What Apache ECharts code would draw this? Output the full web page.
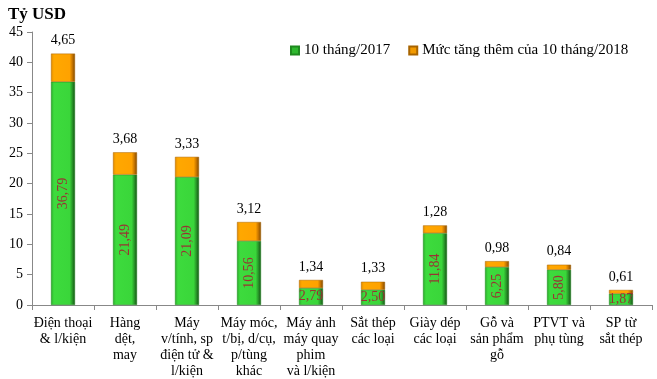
<!DOCTYPE html>
<html><head><meta charset="utf-8">
<script src="https://cdn.jsdelivr.net/npm/echarts@6/dist/echarts.min.js"></script>
<style>html,body{margin:0;padding:0;background:#fff}#c{width:657px;height:379px}</style>
</head><body><div id="c"></div>
<script>
const categories = ["Điện thoại\n& l/kiện", "Hàng\ndệt,\nmay", "Máy\nv/tính, sp\nđiện tử &\nl/kiện", "Máy móc,\nt/bị, d/cụ,\np/tùng\nkhác", "Máy ảnh\nmáy quay\nphim\nvà l/kiện", "Sắt thép\ncác loại", "Giày dép\ncác loại", "Gỗ và\nsản phẩm\ngỗ", "PTVT và\nphụ tùng", "SP từ\nsắt thép"];
const base2017 = [36.79, 21.49, 21.09, 10.56, 2.79, 2.50, 11.84, 6.25, 5.80, 1.87];
const increase2018 = [4.65, 3.68, 3.33, 3.12, 1.34, 1.33, 1.28, 0.98, 0.84, 0.61];
const seriesNames = ["10 tháng/2017", "Mức tăng thêm của 10 tháng/2018"];

const font = "'Liberation Serif', 'Times New Roman', serif";
const fmt = v => v.toFixed(2).replace('.', ',');

const greenGrad = new echarts.graphic.LinearGradient(0, 0, 1, 0, [
  {offset: 0, color: '#2aa82a'}, {offset: 0.12, color: '#3ddb3d'},
  {offset: 0.78, color: '#3ad63a'}, {offset: 0.9, color: '#268f26'}, {offset: 1, color: '#144d14'}]);
const orangeGrad = new echarts.graphic.LinearGradient(0, 0, 1, 0, [
  {offset: 0, color: '#e08a00'}, {offset: 0.12, color: '#ffa800'},
  {offset: 0.78, color: '#ffa200'}, {offset: 0.9, color: '#c07000'}, {offset: 1, color: '#7a4800'}]);

const greenData = base2017.map(v => ({
  value: v,
  label: v < 4 ? {rotate: 0} : {rotate: 90}
}));

const chart = echarts.init(document.getElementById('c'), null, {renderer: 'canvas'});
chart.setOption({
  animation: false,
  textStyle: {fontFamily: font},
  title: {text: 'Tỷ USD', left: 3, top: 1, textStyle: {fontFamily: font, fontSize: 17, fontWeight: 'bold', color: '#000'}},
  legend: {
    left: 285, top: 38, itemWidth: 8, itemHeight: 8, itemGap: 18,
    textStyle: {fontFamily: font, fontSize: 15, color: '#000'},
    data: [{name: seriesNames[0], icon: 'rect', itemStyle: {color: '#2fb82f'}},
           {name: seriesNames[1], icon: 'rect', itemStyle: {color: '#f29a00'}}]
  },
  grid: {left: 32, right: 5, top: 32, bottom: 73},
  xAxis: {
    type: 'category', data: categories,
    axisLine: {lineStyle: {color: '#888'}},
    axisTick: {show: true, length: 5, lineStyle: {color: '#888'}, alignWithLabel: false},
    axisLabel: {interval: 0, fontFamily: font, fontSize: 14, color: '#000', lineHeight: 16, margin: 10}
  },
  yAxis: {
    type: 'value', min: 0, max: 45, interval: 5,
    splitLine: {show: false},
    axisLine: {show: true, lineStyle: {color: '#888'}},
    axisTick: {show: true, length: 5, lineStyle: {color: '#888'}},
    axisLabel: {fontFamily: font, fontSize: 14, color: '#000', margin: 9}
  },
  series: [
    {
      name: seriesNames[0], type: 'bar', stack: 's', barWidth: 24,
      data: greenData,
      itemStyle: {color: greenGrad, borderColor: '#1f8a1f', borderWidth: 0.5},
      label: {show: true, position: 'inside', fontFamily: font, fontSize: 14, color: '#993333',
        formatter: p => fmt(p.value)}
    },
    {
      name: seriesNames[1], type: 'bar', stack: 's', barWidth: 24,
      data: increase2018,
      itemStyle: {color: orangeGrad, borderColor: '#a86400', borderWidth: 0.5},
      label: {show: true, position: 'top', distance: 6, fontFamily: font, fontSize: 14, color: '#000',
        formatter: p => fmt(p.value)}
    }
  ]
});
</script></body></html>
